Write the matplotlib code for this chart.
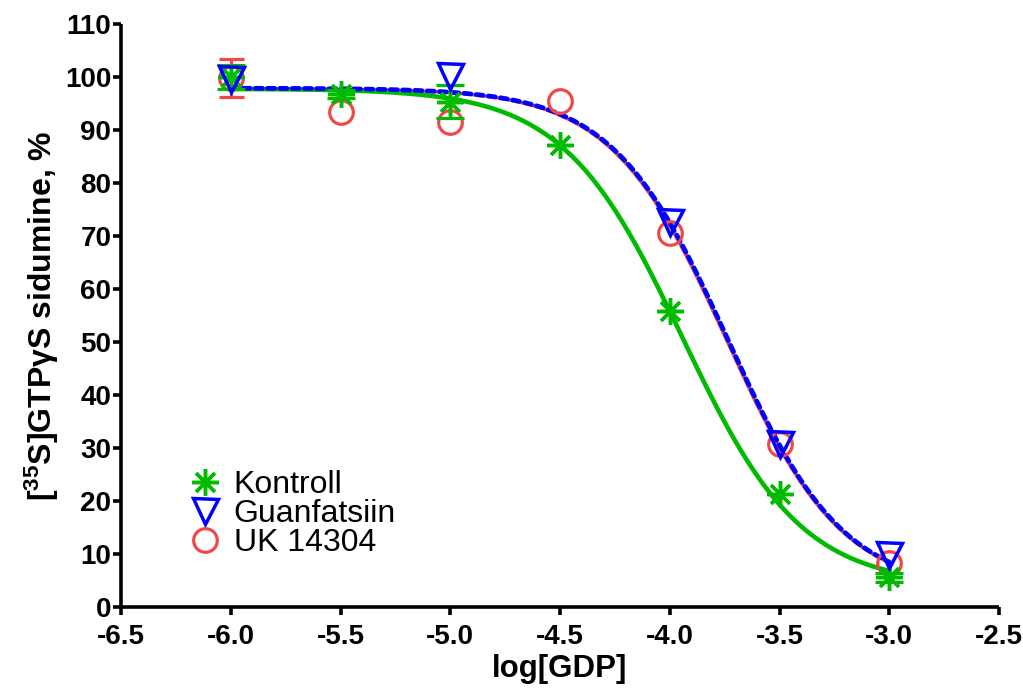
import numpy as np
import matplotlib
matplotlib.use("Agg")
import matplotlib.pyplot as plt
from matplotlib.lines import Line2D

# ---- data ----
log_gdp = [-6.0, -5.5, -5.0, -4.5, -4.0, -3.5, -3.0]

kontroll = [100.0, 96.8, 95.3, 87.2, 55.8, 21.3, 5.6]
kontroll_err = [2.3, 0.8, 3.1, 0.0, 0.0, 0.0, 0.8]

guanfatsiin = [99.6, None, 100.2, None, 72.6, 30.8, 9.8]

uk14304 = [99.8, 93.4, 91.6, 95.5, 70.6, 30.8, 8.3]
uk14304_err = [3.6, 0.0, 0.0, 0.0, 0.0, 0.0, 0.0]

# sigmoidal dose-response fit parameters
# (top, bottom, logIC50, hill slope)
fit_kontroll = [97.8, 4.0, -3.943, 1.6]
fit_guanfatsiin = [97.9, 3.0, -3.735, 1.65]
fit_uk14304 = [97.8, 3.0, -3.742, 1.65]

series_names = ["Kontroll", "Guanfatsiin", "UK 14304"]
x_ticks = [-6.5, -6.0, -5.5, -5.0, -4.5, -4.0, -3.5, -3.0, -2.5]
y_ticks = list(range(0, 111, 10))

GREEN = "#00bb00"
BLUE = "#0000ff"
RED = "#f04848"

plt.rcParams["font.family"] = ["Liberation Sans", "DejaVu Sans"]
plt.rcParams["mathtext.fontset"] = "custom"
plt.rcParams["mathtext.rm"] = "Liberation Sans:bold"
plt.rcParams["mathtext.bf"] = "Liberation Sans:bold"
plt.rcParams["mathtext.it"] = "Liberation Sans:bold"

fig = plt.figure(figsize=(10.23, 6.92), dpi=100)
ax = fig.add_axes([121 / 1023, 85 / 692, 878 / 1023, 583 / 692])


def curve(p, x):
    top, bottom, c, h = p
    return bottom + (top - bottom) / (1 + 10 ** ((x - c) * h))


xs = np.linspace(log_gdp[0], log_gdp[-1], 300)


def pts(vals):
    x = [a for a, v in zip(log_gdp, vals) if v is not None]
    y = [v for v in vals if v is not None]
    return x, y


def err_pts(vals, errs):
    sel = [(a, v, e) for a, v, e in zip(log_gdp, vals, errs)
           if v is not None and e > 0]
    return [s[0] for s in sel], [s[1] for s in sel], [s[2] for s in sel]


STAR = (8, 2, 0)
uk_style = dict(linestyle="none", marker="o", ms=17, mfc="none", mec=RED, mew=2.3)
k_style = dict(linestyle="none", marker=STAR, ms=19, mec=GREEN, mew=2.5)
g_style = dict(linestyle="none", marker="v", ms=18, mfc="none", mec=BLUE, mew=2.5)

# curves
ax.plot(xs, curve(fit_uk14304, xs), color=RED, lw=2.3, zorder=3)
ax.plot(xs, curve(fit_kontroll, xs), color=GREEN, lw=3.3, zorder=4)
ax.plot(xs, curve(fit_guanfatsiin, xs), color=BLUE, lw=3.4,
        linestyle=(0, (1.5, 1.1)), dash_capstyle="round", zorder=5)

# UK 14304
ex, ey, ee = err_pts(uk14304, uk14304_err)
ax.errorbar(ex, ey, yerr=ee, fmt="none", ecolor=RED, elinewidth=2.3,
            capsize=9, capthick=2.3, zorder=6)
x, y = pts(uk14304)
ax.plot(x, y, zorder=6, **uk_style)

# Kontroll
ex, ey, ee = err_pts(kontroll, kontroll_err)
ax.errorbar(ex, ey, yerr=ee, fmt="none", ecolor=GREEN, elinewidth=2.3,
            capsize=10, capthick=2.3, zorder=7)
x, y = pts(kontroll)
ax.plot(x, y, zorder=7, **k_style)

# Guanfatsiin
x, y = pts(guanfatsiin)
ax.plot(x, y, zorder=8, **g_style)

ax.set_xlim(-6.5, -2.5)
ax.set_ylim(0, 110)
ax.set_xticks(x_ticks)
ax.set_xticklabels([f"{t:.1f}" for t in x_ticks])
ax.set_yticks(y_ticks)

for s in ["top", "right"]:
    ax.spines[s].set_visible(False)
for s in ["left", "bottom"]:
    ax.spines[s].set_linewidth(2.6)
    ax.spines[s].set_capstyle("butt")
ax.tick_params(axis="both", direction="out", length=6, width=2.6)
ax.tick_params(axis="y", labelsize=20, pad=1)
ax.tick_params(axis="x", labelsize=20, pad=6)
for lab in ax.get_xticklabels() + ax.get_yticklabels():
    lab.set_fontweight("bold")

ax.set_ylabel("[$^{35}$S]GTPγS sidumine, %", fontsize=23,
              fontweight="bold", labelpad=3)
ax.set_xlabel("log[GDP]", fontsize=22.5, fontweight="bold", labelpad=3)

handles = [Line2D([], [], **k_style), Line2D([], [], **g_style),
           Line2D([], [], **uk_style)]
leg = ax.legend(handles, series_names,
                loc="lower left", bbox_to_anchor=(0.061, 0.056), frameon=False,
                fontsize=23, handlelength=0.9, handletextpad=0.45,
                labelspacing=-0.03, borderpad=0)

fig.savefig("out.png", dpi=100)
